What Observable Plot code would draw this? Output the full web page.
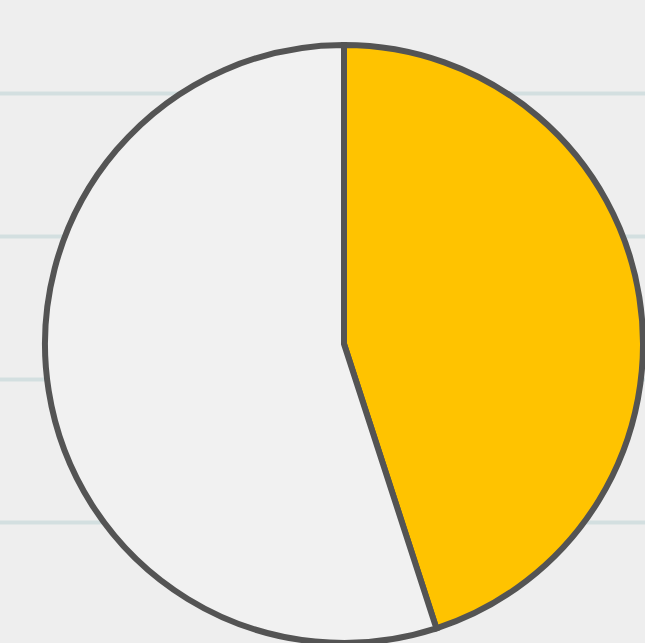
<!DOCTYPE html>
<html>
<head>
<meta charset="utf-8">
<script src="https://cdn.jsdelivr.net/npm/d3@7"></script>
<script src="https://cdn.jsdelivr.net/npm/@observablehq/plot@0.6"></script>
<style>
  html, body { margin: 0; padding: 0; background: #eeeeee; overflow: hidden; }
  #chart svg { display: block; }
</style>
</head>
<body>
<div id="chart"></div>
<script>
// Data
const categories = ["Yes", "No"];
const values = [45, 55];
const colors = ["#ffc300", "#f1f1f1"];
const gridTicks = [1, 2, 3, 4];

const slices = categories.map((c, i) => ({category: c, value: values[i], color: colors[i]}));

function pieMark(index, scales, vals, dimensions) {
  const cx = scales.x(0);
  const r = scales.x(1) - scales.x(0);
  const cy = 344;
  const arcs = d3.pie().sort(null).value(d => d.value)(slices);
  const arc = d3.arc().innerRadius(0).outerRadius(r);
  const g = d3.create("svg:g").attr("transform", `translate(${cx},${cy})`);
  g.selectAll("path")
    .data(arcs)
    .join("path")
    .attr("d", arc)
    .attr("fill", d => d.data.color)
    .attr("stroke", "#545454")
    .attr("stroke-width", 6)
    .attr("stroke-linejoin", "miter");
  return g.node();
}

const chart = Plot.plot({
  width: 645,
  height: 643,
  margin: 0,
  style: {background: "#eeeeee"},
  x: {domain: [-1, 1], range: [45, 643], axis: null},
  y: {domain: [0.154, 4.65], range: [643, 0], axis: null},
  marks: [
    Plot.ruleY(gridTicks, {stroke: "#d3dfe0", strokeWidth: 4}),
    pieMark
  ]
});
document.getElementById("chart").appendChild(chart);
</script>
</body>
</html>
